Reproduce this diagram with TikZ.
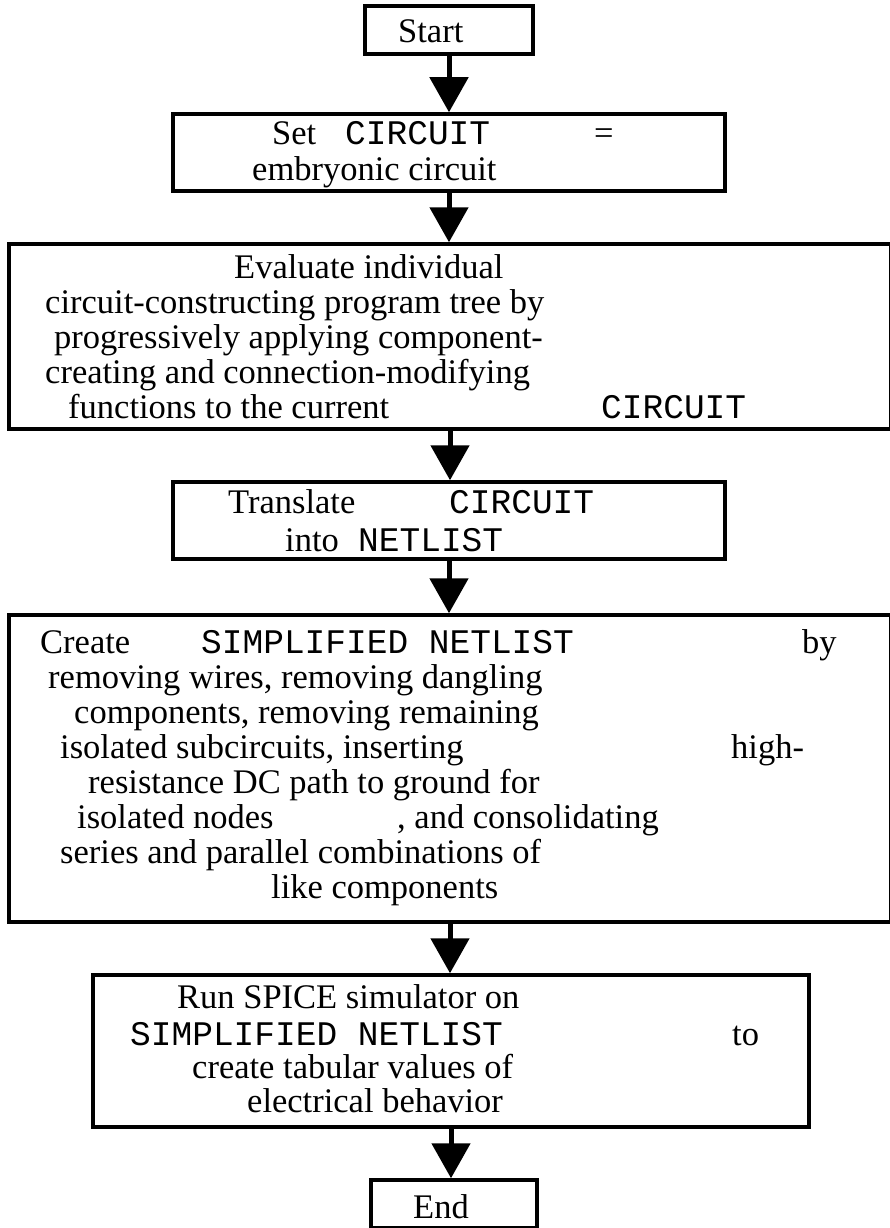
\documentclass[tikz,border=0pt]{standalone}
\usepackage{fontspec}
\setmainfont{Liberation Serif}
\setmonofont{Liberation Mono}
\usetikzlibrary{arrows.meta}

\tikzset{
  stepbox/.style={draw, rectangle, line width=3.5pt, inner sep=0pt},
  flow/.style={line width=5pt, -{Triangle[length=35pt,width=38pt]}},
  txt/.style={anchor=base west, inner sep=0pt, font=\fontsize{34.5}{35}\selectfont},
}

\begin{document}
\begin{tikzpicture}[x=1pt,y=-1pt]
  \useasboundingbox (0,0) rectangle (889,1228);
  % Boxes
  \node[stepbox, minimum width=168pt, minimum height=48pt] (start) at (449,30) {};
  \node[stepbox, minimum width=552pt, minimum height=77pt] (setc) at (449,152.5) {};
  \node[stepbox, minimum width=882pt, minimum height=185pt] (evalt) at (450,336.5) {};
  \node[stepbox, minimum width=552pt, minimum height=77pt] (trans) at (449,520.5) {};
  \node[stepbox, minimum width=882pt, minimum height=307pt] (simp) at (450,768.5) {};
  \node[stepbox, minimum width=716pt, minimum height=152pt] (spice) at (451,1051) {};
  \node[stepbox, minimum width=166pt, minimum height=48pt] (finish) at (454,1204) {};
  % Start
  \node[txt] (startt) at (398,43) {Start};
  % Set CIRCUIT
  \node[txt] (set1) at (272,145) {Set};
  \node[txt] (set2) at (345,145) {\texttt{CIRCUIT}};
  \node[txt] (set3) at (594,145) {=};
  \node[txt] (set4) at (252,180) {embryonic circuit};
  % Evaluate
  \node[txt] (ev1) at (234,278) {Evaluate individual};
  \node[txt] (ev2) at (45,313) {circuit-constructing program tree by};
  \node[txt] (ev3) at (54,348) {progressively applying component-};
  \node[txt] (ev4) at (45,383) {creating and connection-modifying};
  \node[txt] (ev5) at (68,418) {functions to the current};
  \node[txt] (ev6) at (601,418) {\texttt{CIRCUIT}};
  % Translate
  \node[txt] (tr1) at (228,513) {Translate};
  \node[txt] (tr2) at (449,513) {\texttt{CIRCUIT}};
  \node[txt] (tr3) at (285,551) {into};
  \node[txt] (tr4) at (358,551) {\texttt{NETLIST}};
  % Simplify
  \node[txt] (si1) at (40,653) {Create};
  \node[txt] (si2) at (201,653) {\texttt{SIMPLIFIED NETLIST}};
  \node[txt] (si3) at (802,653) {by};
  \node[txt] (si4) at (48,688) {removing wires, removing dangling};
  \node[txt] (si5) at (74,723) {components, removing remaining};
  \node[txt] (si6) at (60,758) {isolated subcircuits, inserting};
  \node[txt] (si7) at (731,758) {high-};
  \node[txt] (si8) at (88,793) {resistance DC path to ground for};
  \node[txt] (si9) at (77,828) {isolated nodes};
  \node[txt] (si10) at (397,828) {, and consolidating};
  \node[txt] (si11) at (60,863) {series and parallel combinations of};
  \node[txt] (si12) at (271,898) {like components};
  % SPICE
  \node[txt] (sp1) at (177,1008) {Run SPICE simulator on};
  \node[txt] (sp2) at (130,1045) {\texttt{SIMPLIFIED NETLIST}};
  \node[txt] (sp3) at (732,1045) {to};
  \node[txt] (sp4) at (192,1078) {create tabular values of};
  \node[txt] (sp5) at (247,1112) {electrical behavior};
  % End
  \node[txt] (endt) at (413,1218) {End};
  % Arrows
  \draw[flow] (start.south) -- (start.south |- setc.north);
  \draw[flow] (setc.south) -- (setc.south |- evalt.north);
  \draw[flow] (evalt.south) -- (evalt.south |- trans.north);
  \draw[flow] (trans.south) -- (trans.south |- simp.north);
  \draw[flow] (simp.south) -- (simp.south |- spice.north);
  \draw[flow] (spice.south) -- (spice.south |- finish.north);
\end{tikzpicture}
\end{document}
